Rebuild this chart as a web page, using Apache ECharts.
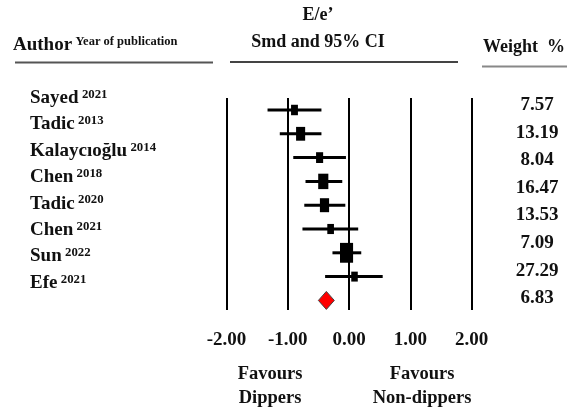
<!DOCTYPE html>
<html>
<head>
<meta charset="utf-8">
<script src="https://cdn.jsdelivr.net/npm/echarts@6/dist/echarts.min.js"></script>
<style>
html,body{margin:0;padding:0;background:#fff;}
#chart{width:571px;height:414px;}
</style>
</head>
<body>
<div id="chart"></div>
<script>
// ---- data ----
const authors = ['Sayed', 'Tadic', 'Kalaycıoğlu', 'Chen', 'Tadic', 'Chen', 'Sun', 'Efe'];
const years = ['2021', '2013', '2014', '2018', '2020', '2021', '2022', '2021'];
const smd = [-0.89, -0.79, -0.48, -0.42, -0.40, -0.30, -0.04, 0.09];
const ciLow = [-1.33, -1.13, -0.91, -0.71, -0.73, -0.76, -0.27, -0.39];
const ciHigh = [-0.45, -0.45, -0.05, -0.11, -0.06, 0.15, 0.20, 0.55];
const weights = [7.57, 13.19, 8.04, 16.47, 13.53, 7.09, 27.29, 6.83];
const pooledEst = -0.37;
const pooledLow = -0.50;
const pooledHigh = -0.24;
const xTicks = [-2, -1, 0, 1, 2];

// ---- layout / style ----
const FONT = "'Liberation Serif', 'Times New Roman', serif";
const INK = '#111';
const pooledRow = authors.length;

const chart = echarts.init(document.getElementById('chart'), null, {renderer: 'canvas'});

const graphics = [];
// header texts
graphics.push({
  type: 'text', left: 13, top: 35,
  style: {
    text: '{a|Author} {b|Year of publication}',
    rich: {
      a: {fontFamily: FONT, fontWeight: 'bold', fontSize: 19, fill: INK, lineHeight: 20},
      b: {fontFamily: FONT, fontWeight: 'bold', fontSize: 12.5, fill: INK, lineHeight: 13, verticalAlign: 'top'}
    }
  }
});
graphics.push({type: 'text', x: 318, y: 15, style: {text: 'E/e’', fontFamily: FONT, fontWeight: 'bold', fontSize: 18, fill: INK, align: 'center', verticalAlign: 'middle'}});
graphics.push({type: 'text', x: 318, y: 42, style: {text: 'Smd and 95% CI', fontFamily: FONT, fontWeight: 'bold', fontSize: 18, fill: INK, align: 'center', verticalAlign: 'middle'}});
graphics.push({type: 'text', x: 483, y: 47, style: {text: 'Weight  %', fontFamily: FONT, fontWeight: 'bold', fontSize: 18, fill: INK, align: 'left', verticalAlign: 'middle'}});
// header rules
graphics.push({type: 'line', shape: {x1: 15, y1: 62.5, x2: 213, y2: 62.5}, style: {stroke: '#555', lineWidth: 2}});
graphics.push({type: 'line', shape: {x1: 230, y1: 62, x2: 458, y2: 62}, style: {stroke: '#444', lineWidth: 2}});
graphics.push({type: 'line', shape: {x1: 482, y1: 66.5, x2: 567, y2: 66.5}, style: {stroke: '#888', lineWidth: 2}});

// author labels
authors.forEach(function (name, i) {
  graphics.push({
    type: 'text', x: 30, y: 98 + i * 26.4,
    style: {
      text: '{n|' + name + '} {s|' + years[i] + '}',
      verticalAlign: 'middle',
      rich: {
        n: {fontFamily: FONT, fontWeight: 'bold', fontSize: 19, fill: INK, lineHeight: 20},
        s: {fontFamily: FONT, fontWeight: 'bold', fontSize: 12.8, fill: INK, lineHeight: 13, verticalAlign: 'top'}
      }
    }
  });
});
// weights
weights.forEach(function (w, i) {
  graphics.push({
    type: 'text', x: 537, y: 105 + i * 27.6,
    style: {text: w.toFixed(2), fontFamily: FONT, fontWeight: 'bold', fontSize: 19, fill: INK, align: 'center', verticalAlign: 'middle'}
  });
});
// favours labels
graphics.push({type: 'text', x: 270, y: 386, style: {text: 'Favours\nDippers', fontFamily: FONT, fontWeight: 'bold', fontSize: 18.5, lineHeight: 24, fill: INK, align: 'center', verticalAlign: 'middle'}});
graphics.push({type: 'text', x: 422, y: 386, style: {text: 'Favours\nNon-dippers', fontFamily: FONT, fontWeight: 'bold', fontSize: 18.5, lineHeight: 24, fill: INK, align: 'center', verticalAlign: 'middle'}});

const ciData = smd.map(function (v, i) { return [i, ciLow[i], ciHigh[i]]; });
const pointData = smd.map(function (v, i) { return [v, i, weights[i]]; });

chart.setOption({
  animation: false,
  backgroundColor: '#fff',
  grid: {left: 226.5, right: 99.5, top: 98, bottom: 104},
  xAxis: {
    type: 'value', min: xTicks[0], max: xTicks[xTicks.length - 1], interval: 1,
    axisLine: {show: false}, axisTick: {show: false},
    axisLabel: {
      margin: 21, fontFamily: FONT, fontWeight: 'bold', fontSize: 19, color: INK,
      formatter: function (v) { return v.toFixed(2); }
    },
    splitLine: {show: true, lineStyle: {color: '#000', width: 2}}
  },
  yAxis: {
    type: 'value', inverse: true, min: -0.504, max: 8.403,
    show: false, splitLine: {show: false}
  },
  graphic: graphics,
  series: [
    {
      type: 'custom', z: 3,
      data: ciData,
      renderItem: function (params, api) {
        const row = api.value(0);
        const a = api.coord([api.value(1), row]);
        const b = api.coord([api.value(2), row]);
        return {type: 'line', shape: {x1: a[0], y1: a[1], x2: b[0], y2: b[1]}, style: {stroke: '#000', lineWidth: 3}};
      }
    },
    {
      type: 'scatter', z: 4,
      data: pointData,
      symbol: 'rect',
      symbolSize: function (val) {
        const s = Math.sqrt(val[2]);
        return [2.5 * s, 3.8 * s];
      },
      itemStyle: {color: '#000', opacity: 1}
    },
    {
      type: 'custom', z: 5,
      data: [[pooledEst, pooledRow, pooledLow, pooledHigh]],
      renderItem: function (params, api) {
        const c = api.coord([api.value(0), api.value(1)]);
        const l = api.coord([api.value(2), api.value(1)]);
        const r = api.coord([api.value(3), api.value(1)]);
        const h = 9;
        return {
          type: 'polygon',
          shape: {points: [[l[0], c[1]], [c[0], c[1] - h], [r[0], c[1]], [c[0], c[1] + h]]},
          style: {fill: '#ff0000', stroke: '#444', lineWidth: 1}
        };
      }
    }
  ]
});
</script>
</body>
</html>
